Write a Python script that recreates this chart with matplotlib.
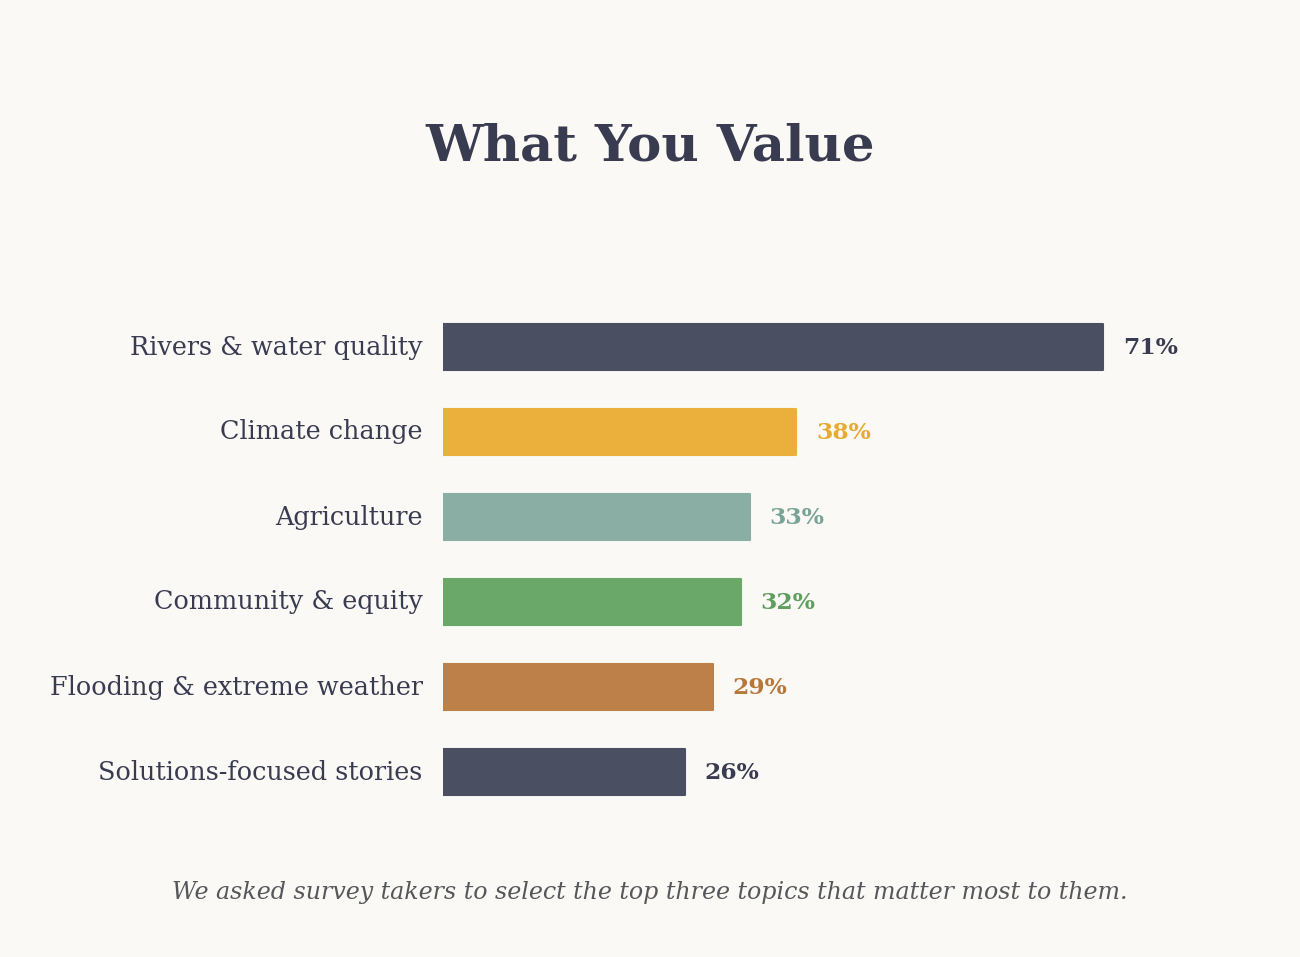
import matplotlib.pyplot as plt

# data
topics = ["Rivers & water quality", "Climate change", "Agriculture",
          "Community & equity", "Flooding & extreme weather", "Solutions-focused stories"]
shares = [71, 38, 33, 32, 29, 26]
bar_colors = ["#4a4f62", "#ebaf3c", "#8aada4", "#6aa86a", "#bd8049", "#4a4f62"]
label_colors = ["#393c51", "#e9aa33", "#7aa398", "#5e9e5e", "#b87639", "#393c51"]

bg = "#faf9f5"
text_dark = "#393c51"

plt.rcParams['font.family'] = ['DejaVu Serif']

fig = plt.figure(figsize=(13, 9.57), dpi=100, facecolor=bg)
# axes spans x 443..1300 px, y 300..820 px
ax = fig.add_axes([443 / 1300, 1 - 820 / 957, 857 / 1300, 520 / 957])
ax.set_facecolor(bg)

px_per_unit = 9.30
ax.set_xlim(0, 857 / px_per_unit)
ax.set_ylim((820 - 347) / 85, (300 - 347) / 85)

ypos = list(range(len(topics)))
bars = ax.barh(ypos, shares, height=0.54, color=bar_colors,
               edgecolor=bar_colors, linewidth=1.5)
for b in bars:
    b.set_joinstyle('round')

for y, v, c in zip(ypos, shares, label_colors):
    ax.text(v + 2.1, y + 0.01, f"{v}%", va='center', ha='left', fontsize=16.8,
            fontweight='bold', color=c)

for y, t in zip(ypos, topics):
    ax.text(-2.2, y, t, va='center', ha='right', fontsize=18.4, color=text_dark)

for s in ax.spines.values():
    s.set_visible(False)
ax.set_xticks([])
ax.set_yticks([])

fig.text(0.5, 1 - 147 / 957, "What You Value", ha='center', va='center',
         fontsize=37, fontweight='bold', color=text_dark)
fig.text(0.5, 1 - 892 / 957,
         "We asked survey takers to select the top three topics that matter most to them.",
         ha='center', va='center', fontsize=17.1, style='italic', color="#55575a")

fig.savefig("out.png", dpi=100, facecolor=bg)
